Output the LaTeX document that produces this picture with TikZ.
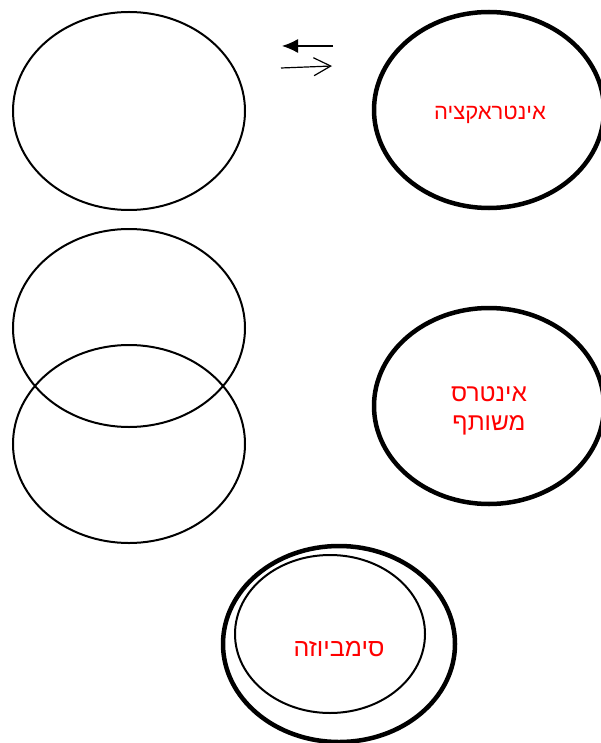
\documentclass[tikz,border=0pt]{standalone}
\usepackage{fontspec}
\TeXXeTstate=1
\newfontfamily\hebfont[Script=Hebrew]{Liberation Sans}
\usetikzlibrary{shapes.geometric,arrows.meta}
\begin{document}
\begin{tikzpicture}[x=1pt,y=-1pt,
  thinell/.style={draw,ellipse,line width=2pt,inner sep=0pt},
  thickell/.style={draw,ellipse,line width=4.5pt,inner sep=0pt},
  heb/.style={text=red,font=\hebfont\fontsize{22}{29}\selectfont,align=center}]
\useasboundingbox (0,0) rectangle (600,743);
\node[thinell,minimum width=232pt,minimum height=198pt] (e1) at (129,111) {};
\node[thickell,minimum width=230pt,minimum height=196pt] (e2) at (489,110) {};
\node[heb] (t2) at (490,115) {\beginR אינטראקציה\endR};
\node[thinell,minimum width=232pt,minimum height=198pt] (e3) at (129,328) {};
\node[thinell,minimum width=232pt,minimum height=198pt] (e4) at (129,444) {};
\node[thickell,minimum width=230pt,minimum height=196pt] (e5) at (489,406) {};
\node[heb,font=\hebfont\fontsize{24.5}{29}\selectfont] (t5) at (489,411) {\beginR אינטרס\endR\\\beginR משותף\endR};
\node[thickell,minimum width=232pt,minimum height=196pt] (e6) at (339,644) {};
\node[thinell,minimum width=190pt,minimum height=158pt] (e7) at (330,634) {};
\node[heb,font=\hebfont\fontsize{25}{29}\selectfont] (t7) at (339,649) {\beginR סימביוזה\endR};
\coordinate (a1s) at (333,46);
\coordinate (a1e) at (282,46);
\coordinate (a2s) at (281,68);
\coordinate (a2e) at (332,66);
\draw[line width=1.2pt,-{Latex[length=16pt,width=14pt]}] (a1s) -- (a1e);
\draw[line width=1.2pt,-{Straight Barb[length=17pt,width=18pt,line width=1.2pt]}] (a2s) -- (a2e);
\end{tikzpicture}
\end{document}
